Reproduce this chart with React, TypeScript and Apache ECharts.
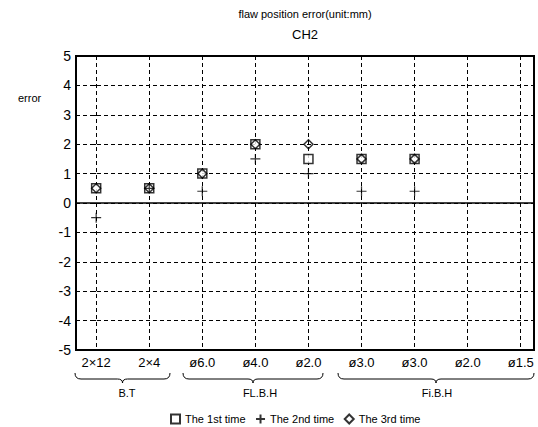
import React, { useEffect, useRef } from "react";
import * as echarts from "echarts";

const categories = ["2×12", "2×4", "ø6.0", "ø4.0", "ø2.0", "ø3.0", "ø3.0", "ø2.0", "ø1.5"];
const groupNames = ["B.T", "FL.B.H", "Fi.B.H"];
const firstTime = [0.5, 0.5, 1.0, 2.0, 1.5, 1.5, 1.5];
const secondTime = [-0.5, 0.5, 0.4, 1.5, 1.0, 0.4, 0.4];
const thirdTime = [0.5, 0.5, 1.0, 2.0, 2.0, 1.5, 1.5];
const yTicks = [-5, 5];

const FONT = "Liberation Sans";

const brace = (w: number) => {
  const h = w / 2;
  return `M0,0 Q0,6 6,6 L${h - 5},6 Q${h},6 ${h},10 Q${h},6 ${h + 5},6 L${w - 6},6 Q${w},6 ${w},0`;
};

export default function App() {
  const ref = useRef<HTMLDivElement>(null);
  useEffect(() => {
    if (!ref.current) return;
    document.body.style.margin = "0";
    document.body.style.overflow = "hidden";
    const chart = echarts.init(ref.current, undefined, { renderer: "svg" });
    const toPts = (arr: number[]) => arr.map((v, i) => [i, v]);
    const braces = [
      { x: 75, w: 95, label: groupNames[0], lx: 127 },
      { x: 183, w: 140, label: groupNames[1], lx: 260 },
      { x: 338, w: 196, label: groupNames[2], lx: 437 },
    ];
    braces.forEach((b, i) => {
      echarts.graphic.registerShape("brace" + i, echarts.graphic.extendPath(brace(b.w), {}) as any);
    });
    const graphics: any[] = [
      { type: "text", x: 305, y: 8, style: { text: "flaw position error(unit:mm)", font: `11px ${FONT}`, fill: "#000", textAlign: "center" } },
      { type: "text", x: 305, y: 28, style: { text: "CH2", font: `13px ${FONT}`, fill: "#000", textAlign: "center" } },
      { type: "text", x: 18, y: 92, style: { text: "error", font: `11px ${FONT}`, fill: "#000" } },
    ];
    braces.forEach((b, i) => {
      graphics.push({ type: "brace" + i, x: b.x, y: 373, style: { fill: "none", stroke: "#000", lineWidth: 1 } });
      graphics.push({ type: "text", x: b.lx, y: 387, style: { text: b.label, font: `11px ${FONT}`, fill: "#000", textAlign: "center" } });
    });
    chart.setOption({
      animation: false,
      graphic: graphics,
      grid: { left: 76, right: 4, top: 56, bottom: 77, show: true, borderColor: "#000", borderWidth: 2, backgroundColor: "transparent" },
      legend: {
        left: 165,
        top: 407,
        itemWidth: 9,
        itemHeight: 9,
        itemGap: 8,
        textStyle: { fontFamily: FONT, fontSize: 11, color: "#000" },
        data: ["The 1st time", "The 2nd time", "The 3rd time"],
      },
      xAxis: {
        type: "value",
        min: -0.38,
        max: 8.25,
        splitNumber: 9,
        minInterval: 1,
        maxInterval: 1,
        axisLine: { show: false },
        axisTick: { show: true, length: 4, lineStyle: { color: "#000" } },
        splitLine: { show: true, lineStyle: { color: "#000", type: [4, 3], width: 1 } },
        axisLabel: {
          color: "#000",
          fontFamily: FONT,
          fontSize: 13,
          margin: 6,
          showMinLabel: false,
          showMaxLabel: false,
          formatter: (v: number) => {
            const r = Math.round(v);
            return Math.abs(v - r) < 1e-6 && r >= 0 && r < categories.length ? categories[r] : "";
          },
        },
      },
      yAxis: {
        type: "value",
        min: yTicks[0],
        max: yTicks[1],
        interval: 1,
        axisLine: { show: false },
        axisTick: { show: true, length: 4, lineStyle: { color: "#000" } },
        splitLine: { show: true, lineStyle: { color: "#000", type: [4, 3], width: 1 } },
        axisLabel: { color: "#000", fontFamily: FONT, fontSize: 14, margin: 5 },
      },
      series: [
        {
          name: "The 1st time",
          type: "scatter",
          symbol: "rect",
          symbolSize: 9,
          itemStyle: { color: "#fff", borderColor: "#000", borderWidth: 1.5 },
          data: toPts(firstTime),
          z: 3,
          markLine: {
            silent: true,
            symbol: "none",
            label: { show: false },
            lineStyle: { color: "#000", type: "solid", width: 1.5 },
            data: [{ yAxis: 0 }],
          },
        },
        {
          name: "The 2nd time",
          type: "scatter",
          symbol: "path://M5,0L5,10M0,5L10,5",
          symbolSize: 10,
          itemStyle: { color: "none", borderColor: "#000", borderWidth: 1.2 },
          data: toPts(secondTime),
          z: 4,
        },
        {
          name: "The 3rd time",
          type: "scatter",
          symbol: "diamond",
          symbolSize: 9,
          itemStyle: { color: "none", borderColor: "#000", borderWidth: 1.5 },
          data: toPts(thirdTime),
          z: 5,
        },
      ],
    });
    return () => chart.dispose();
  }, []);
  return <div ref={ref} style={{ width: 538, height: 427, background: "#fff" }} />;
}
